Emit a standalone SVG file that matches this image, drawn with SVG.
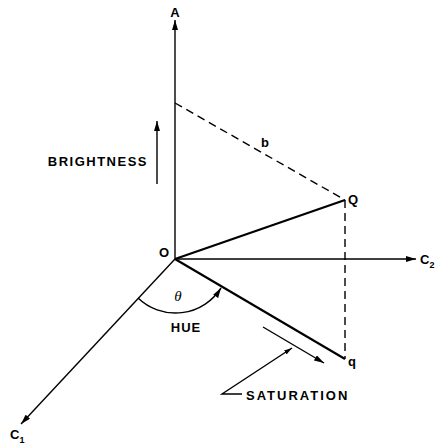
<svg xmlns="http://www.w3.org/2000/svg" width="439" height="448" viewBox="0 0 439 448">
<style>
.lbl{font-family:"Liberation Sans",Arial,sans-serif;font-weight:bold;font-size:13px;fill:#000}
.ax{stroke:#000;stroke-width:1.4;fill:none}
.thick{stroke:#000;stroke-width:2.2;fill:none}
.dash{stroke:#000;stroke-width:1.4;fill:none;stroke-dasharray:8 5}
</style>
<defs>
<marker id="ah" viewBox="0 0 10 6" refX="10" refY="3" markerWidth="10" markerHeight="6" markerUnits="userSpaceOnUse" orient="auto">
<path d="M0,0 L10,3 L0,6 Z" fill="#000"/>
</marker>
<marker id="ahs" viewBox="0 0 10 6" refX="10" refY="3" markerWidth="8" markerHeight="5" markerUnits="userSpaceOnUse" orient="auto">
<path d="M0,0 L10,3 L0,6 Z" fill="#000"/>
</marker>
</defs>
<rect width="439" height="448" fill="#fff"/>
<g id="connectors">
<line class="ax" x1="175" y1="259" x2="175" y2="20" marker-end="url(#ah)"/>
<line class="ax" x1="175" y1="259" x2="416" y2="259" marker-end="url(#ah)"/>
<line class="ax" x1="175" y1="259" x2="21" y2="424" stroke-width="1.2" marker-end="url(#ah)"/>
<line class="thick" x1="175" y1="259" x2="345" y2="200"/>
<line class="thick" x1="175" y1="259" x2="345" y2="359"/>
<line class="dash" x1="175" y1="103" x2="345" y2="200"/>
<line class="dash" x1="345" y1="200" x2="345" y2="359"/>
<path class="ax" d="M138,298 A54,54 0 0 0 221,288" marker-end="url(#ah)"/>
<line class="ax" x1="157" y1="184" x2="157" y2="121" stroke-width="2" marker-end="url(#ah)"/>
<line class="ax" x1="263" y1="327" x2="324" y2="363" stroke-width="2" marker-end="url(#ah)"/>
<polyline class="ax" points="242,394 222,394 292,348" stroke-width="1.2" marker-end="url(#ahs)"/>
</g>
<g id="A"><text class="lbl" x="175" y="17" text-anchor="middle" font-size="11">A</text></g>
<g id="O"><text class="lbl" x="164" y="257" text-anchor="middle">O</text></g>
<g id="C2"><text class="lbl" x="420" y="264">C<tspan font-size="9" dy="4">2</tspan></text></g>
<g id="C1"><text class="lbl" x="10" y="439">C<tspan font-size="9" dy="4">1</tspan></text></g>
<g id="Q"><text class="lbl" x="348" y="204">Q</text></g>
<g id="q"><text class="lbl" x="348" y="366">q</text></g>
<g id="b"><text class="lbl" x="261" y="147">b</text></g>
<g id="brightness"><text class="lbl" x="148" y="166" text-anchor="end" letter-spacing="1.5">BRIGHTNESS</text></g>
<g id="hue"><text class="lbl" x="186" y="332" text-anchor="middle" letter-spacing="1">HUE</text></g>
<g id="theta"><text x="178" y="301" text-anchor="middle" font-family="Liberation Serif,serif" font-style="italic" font-size="15">θ</text></g>
<g id="saturation"><text class="lbl" x="246" y="400" letter-spacing="2">SATURATION</text></g>
</svg>
